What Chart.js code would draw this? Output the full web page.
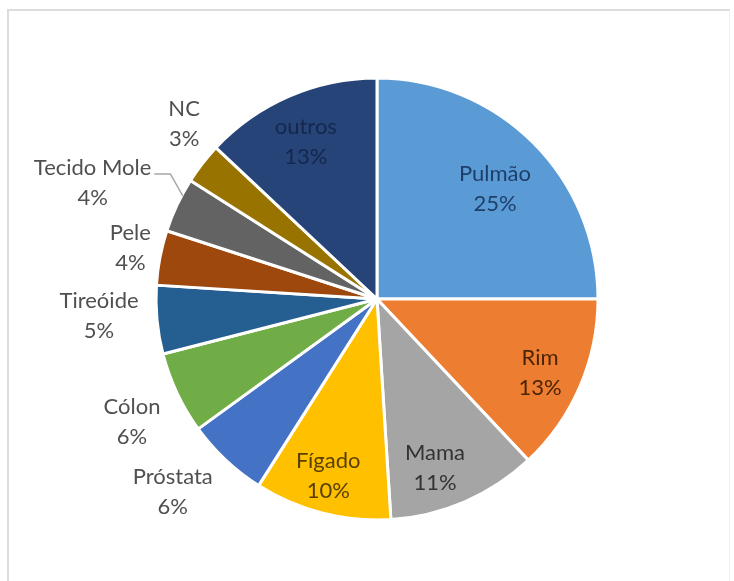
<!DOCTYPE html>
<html lang="pt">
<head>
    <meta charset="UTF-8">
    <title>Distribuição por localização</title>
    <script src="https://cdn.jsdelivr.net/npm/chart.js"></script>
    <style>
        html, body { margin: 0; padding: 0; background: #fff; }
        body { width: 734px; height: 581px; overflow: hidden; position: relative; }
        /* chart area frame */
        .frame {
            position: absolute; left: 7px; top: 9px; width: 720px; height: 620px;
            border: 2px solid #dcdcdc; border-right: 1px solid #f0f0f0;
        }
        .wrap { position: absolute; left: 0; top: 0; width: 734px; height: 581px; }
    </style>
</head>
<body>
    <div class="frame"></div>
    <div class="wrap"><canvas id="pie"></canvas></div>

    <script>
        // categories and shares (%)
        const categories = ['Pulmão', 'Rim', 'Mama', 'Fígado', 'Próstata', 'Cólon', 'Tireóide', 'Pele', 'Tecido Mole', 'NC', 'outros'];
        const shares = [25, 13, 11, 10, 6, 6, 5, 4, 4, 3, 13];
        const sliceColors = ['#5B9BD5', '#ED7D31', '#A5A5A5', '#FFC000', '#4472C4', '#70AD47', '#255E91', '#9E480E', '#636363', '#997300', '#264478'];

        // label placement: [radius factor, angle nudge in degrees, text colour]
        const labelLayout = [
            [0.73, 2, '#1f3f6b'],
            [0.81, 1, '#4a2506'],
            [0.81, 4.5, '#333333'],
            [0.83, 1, '#5a4000'],
            [1.27, 3.5, '#505050'],
            [1.24, -1.4, '#505050'],
            [1.26, 2, '#505050'],
            [1.14, 1, '#505050'],
            [1.39, -3, '#505050'],
            [1.18, 4.5, '#505050'],
            [0.78, -1, '#14274e']
        ];

        const pieLabels = {
            id: 'pieLabels',
            afterDatasetsDraw(chart) {
                const ctx = chart.ctx;
                const arcs = chart.getDatasetMeta(0).data;
                ctx.save();
                ctx.font = '22px Lato, "Open Sans", sans-serif';
                ctx.textAlign = 'center';
                ctx.textBaseline = 'middle';
                arcs.forEach((arc, i) => {
                    const [k, nudge, color] = labelLayout[i];
                    const a = (arc.startAngle + arc.endAngle) / 2 + nudge * Math.PI / 180;
                    const r = arc.outerRadius * k;
                    const x = arc.x + Math.cos(a) * r;
                    const y = arc.y + Math.sin(a) * r;

                    // leader line for the Tecido Mole label
                    if (categories[i] === 'Tecido Mole') {
                        const m = (arc.startAngle + arc.endAngle) / 2;
                        const ex = arc.x + Math.cos(m) * (arc.outerRadius - 2);
                        const ey = arc.y + Math.sin(m) * (arc.outerRadius - 2);
                        const w = ctx.measureText(categories[i]).width;
                        ctx.strokeStyle = '#a6a6a6';
                        ctx.lineWidth = 1.5;
                        ctx.beginPath();
                        ctx.moveTo(x + w / 2 + 3, y - 9);
                        ctx.lineTo(x + w / 2 + 19, y - 9);
                        ctx.lineTo(ex + 4, ey - 10);
                        ctx.stroke();
                    }

                    ctx.fillStyle = color;
                    ctx.fillText(categories[i], x, y - 15);
                    ctx.fillText(shares[i] + '%', x, y + 15);
                });
                ctx.restore();
            }
        };

        new Chart(document.getElementById('pie'), {
            type: 'pie',
            data: {
                labels: categories,
                datasets: [{
                    data: shares,
                    backgroundColor: sliceColors,
                    borderColor: '#ffffff',
                    borderWidth: 3,
                    radius: 221
                }]
            },
            options: {
                responsive: true,
                maintainAspectRatio: false,
                animation: false,
                layout: { padding: { left: 156, right: 136, top: 78, bottom: 61 } },
                plugins: {
                    legend: { display: false },
                    tooltip: { enabled: false }
                }
            },
            plugins: [pieLabels]
        });
    </script>
</body>
</html>
